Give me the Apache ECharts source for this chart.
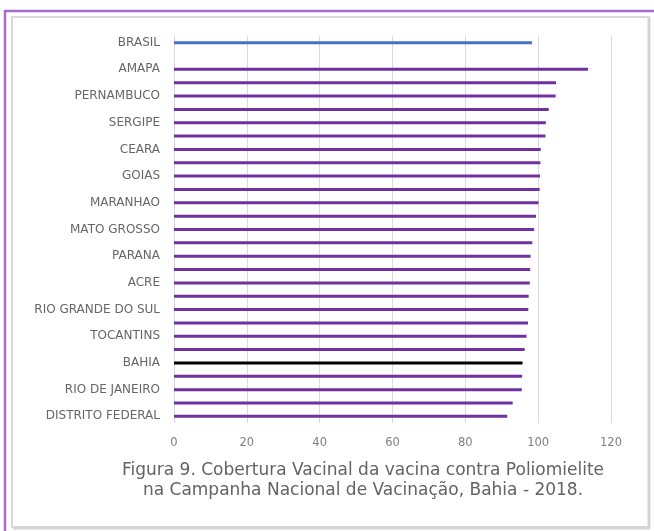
<!DOCTYPE html>
<html>
<head>
<meta charset="utf-8">
<script src="https://cdn.jsdelivr.net/npm/echarts@6/dist/echarts.min.js"></script>
<style>
  html, body { margin: 0; padding: 0; background: #fff; }
  #chart { width: 654px; height: 531px; }
</style>
</head>
<body>
<div id="chart"></div>
<script>
// categories top to bottom (one blank row after BRASIL, as in the original)
const estados = [
  'BRASIL', '',
  'AMAPA', 'PIAUI', 'PERNAMBUCO', 'RORAIMA', 'SERGIPE', 'PARAIBA',
  'CEARA', 'ALAGOAS', 'GOIAS', 'MINAS GERAIS', 'MARANHAO', 'RONDONIA',
  'MATO GROSSO', 'SANTA CATARINA', 'PARANA', 'AMAZONAS', 'ACRE', 'ESPIRITO SANTO',
  'RIO GRANDE DO SUL', 'MATO GROSSO DO SUL', 'TOCANTINS', 'SAO PAULO', 'BAHIA',
  'PARA', 'RIO DE JANEIRO', 'RIO GRANDE DO NORTE', 'DISTRITO FEDERAL'
];
// cobertura vacinal (%)
const cobertura = [
  98.3, null,
  113.7, 104.9, 104.8, 102.9, 102.1, 102.0,
  100.7, 100.6, 100.5, 100.4, 100.1, 99.4,
  98.9, 98.4, 97.9, 97.8, 97.7, 97.4,
  97.3, 97.2, 96.8, 96.3, 95.7,
  95.6, 95.5, 93.0, 91.5
];
const xTicks = [0, 20, 40, 60, 80, 100, 120];

const barColor = (name) => {
  if (name === 'BRASIL') return '#4472c4';
  if (name === 'BAHIA') return '#000000';
  return '#7030a0';
};

const chart = echarts.init(document.getElementById('chart'));

chart.setOption({
  animation: false,
  backgroundColor: '#ffffff',
  grid: { left: 174, right: 43, top: 36, bottom: 108, containLabel: false },
  xAxis: {
    type: 'value',
    min: xTicks[0],
    max: xTicks[xTicks.length - 1],
    interval: 20,
    axisLine: { show: false },
    axisTick: { show: false },
    axisLabel: { color: '#808080', fontSize: 11.5, fontFamily: 'DejaVu Sans', margin: 14 },
    splitLine: { lineStyle: { color: '#d9d9d9', width: 1 } }
  },
  yAxis: {
    type: 'category',
    inverse: true,
    data: estados,
    axisLine: { show: false },
    axisTick: { show: false },
    axisLabel: {
      interval: 1,
      color: '#666666',
      fontSize: 12,
      fontFamily: 'DejaVu Sans',
      margin: 14
    }
  },
  series: [{
    type: 'bar',
    barWidth: 3,
    data: cobertura.map((v, i) => ({
      value: v,
      itemStyle: { color: barColor(estados[i]) }
    }))
  }],
  title: {
    text: 'Figura 9. Cobertura Vacinal da vacina contra Poliomielite\nna Campanha Nacional de Vacinação, Bahia - 2018.',
    left: 358,
    textAlign: 'center',
    top: 456,
    textStyle: {
      color: '#636363',
      fontSize: 17,
      fontWeight: 'normal',
      fontFamily: 'DejaVu Sans',
      lineHeight: 20
    }
  },
  graphic: [
    { type: 'rect', shape: { x: 12, y: 17, width: 637, height: 510 },
      style: { fill: 'none', stroke: '#d9d9d9', lineWidth: 2 }, z: 10 },
    { type: 'line', shape: { x1: 649, y1: 18, x2: 649, y2: 528 },
      style: { stroke: '#d4d4d4', lineWidth: 3 }, z: 10 },
    { type: 'line', shape: { x1: 13, y1: 528, x2: 650, y2: 528 },
      style: { stroke: '#d4d4d4', lineWidth: 3 }, z: 10 },
    { type: 'line', shape: { x1: 4, y1: 11, x2: 654, y2: 11 },
      style: { stroke: '#a56bd1', lineWidth: 2.5 }, z: 10 },
    { type: 'line', shape: { x1: 5, y1: 10, x2: 5, y2: 531 },
      style: { stroke: '#a56bd1', lineWidth: 2.5 }, z: 10 }
  ]
});
</script>
</body>
</html>
